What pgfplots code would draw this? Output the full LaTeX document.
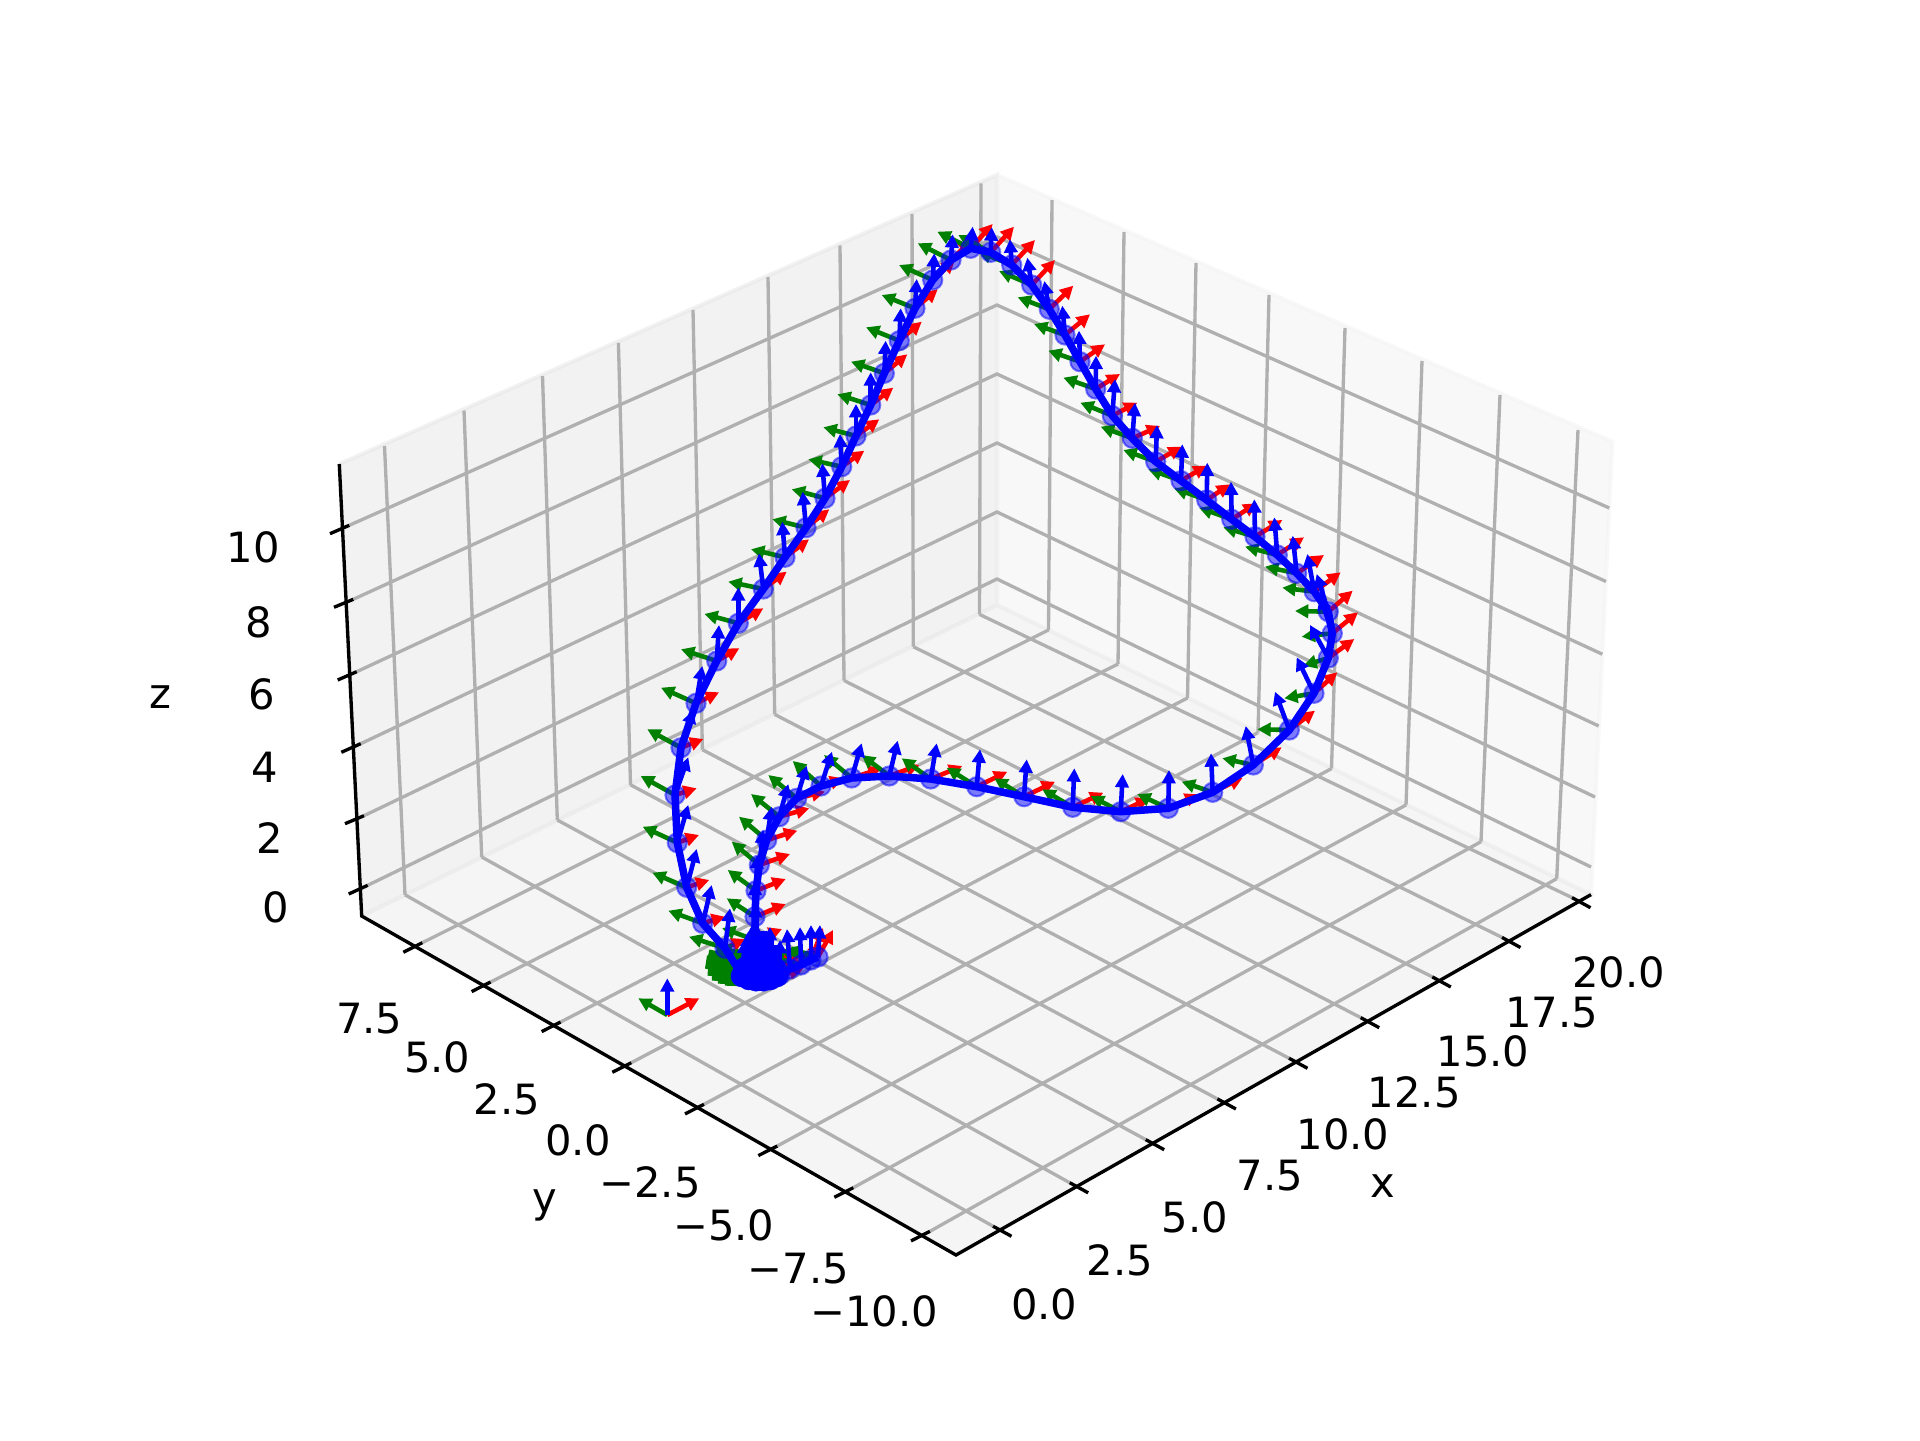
\documentclass[border=0pt]{standalone}
\usepackage{fontspec}
\setmainfont{DejaVu Sans}
\usepackage{pgfplots}
\usepackage{pgfplotstable}
\pgfplotsset{compat=1.18}
\usetikzlibrary{arrows.meta}

% every value is a pixel position in the 1920x1440 frame
\pgfplotstableread{
x y rx ry gx gy bx by
818 957 833 930 788 948 820 925
811 960 823 928 780 950 811 925
801 965 822 945 770 956 800 927
790 969 815 950 758 960 787 929
780 975 808 962 748 966 780 940
772 979 802 968 738 970 772 942
764 981 794 970 730 972 765 944
756 981 786 970 722 972 757 944
748 979 778 968 714 970 750 942
742 975 772 963 708 966 745 940
725 948.3 745 939 689 936.7 730 908.3
702.7 923.3 725 916.7 668.3 910.7 711.7 885
686.7 887.3 709.3 880 652.3 872.7 696.7 849
677.3 842.7 699 835 642.7 826.7 688.3 805
675 795 696.7 788.3 640.7 776 688.3 757.3
681 747.7 703.3 739 647.3 729.3 693.3 710
696 703.3 719 692.3 661 687.7 702.3 666
716.7 661 739.3 648.3 681 649.3 719 625
738.3 623.3 763.3 608.3 704.3 614 738.3 587.3
763.3 589 786.7 571.7 728.3 581.7 759 553.3
785 557.3 809 539.3 751 549.3 782.3 521.7
806 527.7 829.3 509.3 772.3 519.3 802.7 491.7
825 498.3 850 480 791.7 489.3 822.3 463.3
841.7 466.7 864.3 450.7 808.3 459.3 840 434
856 436 879.3 419.3 823.3 427.3 856 404
870.7 405 893.3 387.7 837.3 394.3 870.7 372.3
884.3 373.3 907.3 354.3 851 361.7 885.7 340.7
899.3 340.7 921.7 321.7 866 327.3 900.7 308.3
915 308.3 937.7 289.3 881.7 295 916.7 279
932.7 280 955 260 899 265 934.3 253.3
951 260 971.7 240 917.7 243.3 952.7 234.3
970.7 248.3 992.7 224 937.3 231.7 972.7 226.7
990.7 252.3 1014 226.7 958.3 235 991.7 227.3
1011.7 265 1035 240 978.3 251.7 1010 239.3
1031.7 285 1055 260 999 271 1027.3 257.7
1049.3 309.3 1073.3 285.7 1017.7 297.3 1044.3 281
1065 335 1090 314.3 1034 324 1062.3 305.7
1080 361.7 1105 344.3 1048.3 350.7 1079 330.7
1095.7 389 1120 374 1063.3 377.7 1096 355.7
1112.3 415.7 1137.3 402.7 1080.3 402.7 1115 379
1132.3 438.3 1160 426 1100.7 426.7 1135 402.7
1155.7 461.7 1181.7 446.7 1123.3 450 1157 425
1181 480.7 1206.7 465.7 1148.3 469.3 1182.3 444.3
1206.7 500 1230 484.3 1174 488.3 1207.3 462.7
1231.7 519.3 1256.7 503.3 1199 507.7 1231 481.7
1255 536.7 1282.3 520 1223.3 527.3 1254.3 499.3
1277.3 555 1304 537.3 1245 546.7 1274.3 517.3
1296.7 573.3 1324 555 1265 566.7 1292.7 535.7
1314.3 591.7 1340.7 572.3 1282.3 587.7 1307.3 554
1328.3 611.7 1352.7 590.7 1295 611 1316.7 574
1332.3 633.3 1358 612.3 1301.7 636.7 1320 596
1328.3 658 1354.3 639 1303.3 665.7 1310 625
1314 693.3 1337.3 672.3 1284.3 698.3 1296.7 657.3
1289.3 730 1315 710.7 1257.3 729.3 1275 691.7
1253.3 765 1281.7 747.3 1222.3 758.3 1245.7 726
1212.7 792.3 1242.7 777.7 1181.7 781.7 1211 753.3
1168.3 808.3 1198.3 794.3 1137.3 794 1169 770
1120.7 811.7 1149.3 798.3 1090.7 796 1122.7 774
1072.7 807.3 1103.3 792.7 1042.3 789.3 1074.3 768.3
1024 796.7 1055 781.7 994.3 778.3 1026.7 759.3
976.7 786.7 1007.3 771.7 946.7 767.7 980 749.3
930.7 779 962.3 766 901.7 758.3 936.7 743.3
889.3 776 919.3 765 861.7 755 897.7 740.7
851.7 778 881.7 768.3 824 755 861.7 743.3
821 786 843.3 778.3 792.7 761 832 751.7
796.7 798.3 825 791.7 768.3 775 806.7 765.7
779.3 816.7 809.3 808.3 751 794 788.3 784
766.7 840 797.3 830.7 739 816.7 771.7 806.7
759.3 865 790 854 731.7 841.7 763.3 830
756 890.7 785.7 879 727.7 870 757.3 855
755 916.7 785.7 904 726.7 898.3 755 881.7
755 940 782 929 722 928 756 904
752 958 782 946 718 946 752 925
758 962 788 951 724 952 759 928
766 962 796 951 732 952 767 930
770 968 800 957 736 958 770 927
764 972 794 961 730 962 765 935
756 972 786 961 722 962 757 935
750 966 780 955 716 956 752 932
746 968 776 956 712 958 748 933
}\frames

\pgfplotstableread{
x y rx ry gx gy bx by
667.3 1015 699.3 998.3 638.3 998.3 667.3 978.3
}\origin

% extra green strokes that pile up into the blob left of the start cluster
\pgfplotstableread{
x y gx gy
745 968 706 962
745 972 708 969
748 975 712 974
752 978 718 977
756 980 725 979
760 978 731 976
745 964 708 956
750 960 716 952
}\greenblob

% extra blue strokes that pile up into the solid bell at the start cluster
\pgfplotstableread{
x y bx by
745 978 749 945
751 980 753 935
757 981 757 931
763 981 763 931
769 980 770 934
775 978 775 945
}\blueblob

\pgfplotstableread{
x y
742 976
749 979
756 980
763 980
770 979
777 976
745 968
755 968
765 968
775 968
}\bluedots

\newcommand{\lab}[3]{\node[anchor=center,inner sep=0pt,font=\fontsize{10.04}{12}\selectfont] at (axis cs:#1,#2) {#3};}

\begin{document}
\begin{tikzpicture}
\begin{axis}[
    scale only axis,
    width=6.4in,
    height=4.8in,
    xmin=0, xmax=1920,
    ymin=0, ymax=1440,
    y dir=reverse,
    hide axis,
    clip=false,
    arr/.style={line width=1.1bp,-{Stealth[length=3.2bp,width=3.2bp,inset=0pt]}},
    gridl/.style={draw={rgb,1:red,0.69;green,0.69;blue,0.69},line width=0.8bp,no marks},
    axl/.style={draw=black,line width=0.8bp,no marks},
]
% keeps the page at the full frame
\addplot[draw=none,no marks,forget plot] coordinates {(0,0) (1920,1440)};
\path (axis cs:0,0) (axis cs:1920,1440);
% panes
\addplot[fill={rgb,1:red,0.9;green,0.9;blue,0.9},draw={rgb,1:red,0.9;green,0.9;blue,0.9},fill opacity=0.5,draw opacity=0.5,line width=1bp]
  coordinates {(339.3,464) (997,175) (997,605) (361.7,916) (339.3,464)};
\addplot[fill={rgb,1:red,0.95;green,0.95;blue,0.95},draw={rgb,1:red,0.95;green,0.95;blue,0.95},fill opacity=0.5,draw opacity=0.5,line width=1bp]
  coordinates {(997,175) (1612.3,441.7) (1591,894.6) (997,605) (997,175)};
\addplot[fill={rgb,1:red,0.925;green,0.925;blue,0.925},draw={rgb,1:red,0.925;green,0.925;blue,0.925},fill opacity=0.5,draw opacity=0.5,line width=1bp]
  coordinates {(361.7,916) (997,605) (1591,894.6) (956,1255) (361.7,916)};

% verticals on the left pane
\addplot[gridl] coordinates {
(384.5,446) (405,894.8)

(464,410.5) (481.7,857)

(542.5,376) (557.3,820)

(618.4,342.8) (630.5,784.8)

(693,310) (702.4,749.7)

(768,277) (774.7,714.4)

(840,245.5) (844,680.5)

(912,213.8) (913.3,646.7)

(981,183.5) (979.5,614.4)
};
% verticals on the right pane
\addplot[gridl] coordinates {
(1052,200) (1048.5,630)

(1124,232) (1118,664)

(1196,263) (1187.5,698)

(1269,295) (1258,732.6)

(1345,328) (1331.5,768.6)

(1422,361) (1406,805)

(1500,395) (1481,841.7)

(1578,430) (1556.7,878.7)
};
% z grid, round the two walls
\addplot[gridl] coordinates {
(349.3,525.3) (997,237) (1609.3,508)

(353.3,599.3) (997,305) (1606,581.5)

(356.7,671.7) (997,374) (1602.3,654.2)

(360.7,743.7) (997,443) (1598.7,726)

(364,815.7) (997,512) (1595,797)

(367.7,885.3) (997,579) (1591,867)
};
% floor grid, from the x ticks
\addplot[gridl] coordinates {
(993,1226.2) (405,894.8)

(1069.7,1182.7) (481.7,857)

(1145.7,1139.6) (557.3,820)

(1217.4,1098.9) (630.5,784.8)

(1289,1058.2) (702.4,749.7)

(1360.7,1017.6) (774.7,714.4)

(1432.3,976.9) (844,680.5)

(1502,937.4) (913.3,646.7)

(1572,897.6) (979.5,614.4)
};
% floor grid, from the y ticks
\addplot[gridl] coordinates {
(422.3,942.7) (1048.5,630)

(490.6,982) (1118,664)

(560.6,1022) (1187.5,698)

(631.3,1062.7) (1258,732.6)

(704,1104.3) (1331.5,768.6)

(777.3,1146) (1406,805)

(853.3,1187.7) (1481,841.7)

(930,1231.3) (1556.7,878.7)
};
% axes and ticks
\addplot[axl] coordinates {(339.3,464) (361.7,916) (956,1255) (1591,894.6)};
\addplot[axl] coordinates {
(330,533.7) (349.3,525.3)

(334,607.3) (353.3,599.3)

(337.7,680) (356.7,671.7)

(341.3,752.3) (360.7,743.7)

(345,823.7) (364,815.7)

(348.7,894) (367.7,885.3)

(993,1226.2) (1011.5,1236.3)

(1069.7,1182.7) (1088.2,1192.8)

(1145.7,1139.6) (1164.2,1149.7)

(1217.4,1098.9) (1235.9,1109)

(1289,1058.2) (1307.5,1068.3)

(1360.7,1017.6) (1379.2,1027.7)

(1432.3,976.9) (1450.8,987)

(1502,937.4) (1520.5,947.5)

(1572,897.6) (1590.5,907.7)

(403.3,952.3) (422.3,942.7)

(471.6,991.6) (490.6,982)

(541.6,1031.6) (560.6,1022)

(612.3,1072.3) (631.3,1062.7)

(685,1113.9) (704,1104.3)

(758.3,1155.6) (777.3,1146)

(834.3,1197.3) (853.3,1187.7)

(911,1240.9) (930,1231.3)
};

% tick labels
\lab{253.5}{547}{10}
\lab{258.4}{622}{8}
\lab{262}{694}{6}
\lab{264.5}{767.8}{4}
\lab{269.4}{837.6}{2}
\lab{275.5}{907.4}{0}
\lab{160.4}{696.7}{z}
\lab{369.3}{1019}{7.5}
\lab{437.3}{1057.7}{5.0}
\lab{506.7}{1099}{2.5}
\lab{578.3}{1140}{0.0}
\lab{650}{1182.7}{−2.5}
\lab{723.7}{1225.7}{−5.0}
\lab{798.4}{1268.6}{−7.5}
\lab{874.3}{1311.4}{−10.0}
\lab{545}{1205}{y}
\lab{1044.3}{1304}{0.0}
\lab{1120}{1260.7}{2.5}
\lab{1195}{1217}{5.0}
\lab{1269.8}{1175.5}{7.5}
\lab{1343}{1133.9}{10.0}
\lab{1414.3}{1092.3}{12.5}
\lab{1482.9}{1051.8}{15.0}
\lab{1551.4}{1012.7}{17.5}
\lab{1618.8}{972.3}{20.0}
\lab{1382.4}{1186.5}{x}

% frames
\addplot[red,arr,quiver={u={\thisrow{rx}-\thisrow{x}},v={\thisrow{ry}-\thisrow{y}}}] table[x=x,y=y] {\frames};
\addplot[green!50!black,arr,quiver={u={\thisrow{gx}-\thisrow{x}},v={\thisrow{gy}-\thisrow{y}}}] table[x=x,y=y] {\frames};
\addplot[green!50!black,line width=3.2bp,quiver={u={\thisrow{gx}-\thisrow{x}},v={\thisrow{gy}-\thisrow{y}}}] table[x=x,y=y] {\greenblob};
\addplot[red,arr,quiver={u={\thisrow{rx}-\thisrow{x}},v={\thisrow{ry}-\thisrow{y}}}] table[x=x,y=y] {\origin};
\addplot[green!50!black,arr,quiver={u={\thisrow{gx}-\thisrow{x}},v={\thisrow{gy}-\thisrow{y}}}] table[x=x,y=y] {\origin};
\addplot[blue,arr,quiver={u={\thisrow{bx}-\thisrow{x}},v={\thisrow{by}-\thisrow{y}}}] table[x=x,y=y] {\origin};
\addplot[blue,arr,quiver={u={\thisrow{bx}-\thisrow{x}},v={\thisrow{by}-\thisrow{y}}}] table[x=x,y=y] {\frames};
\addplot[blue,line width=2bp,quiver={u={\thisrow{bx}-\thisrow{x}},v={\thisrow{by}-\thisrow{y}}}] table[x=x,y=y] {\blueblob};
% path and points
\addplot[blue,line width=1.8bp,no marks] table[x=x,y=y] {\frames};
\addplot[only marks,mark=*,mark size=2.3bp,mark options={fill=blue,draw=blue,fill opacity=0.5,draw opacity=0.5,line width=0.5bp}] table[x=x,y=y] {\frames};
\addplot[only marks,mark=*,mark size=2.5bp,mark options={fill=blue,draw=blue}] table[x=x,y=y] {\bluedots};
\end{axis}
\end{tikzpicture}
\end{document}
